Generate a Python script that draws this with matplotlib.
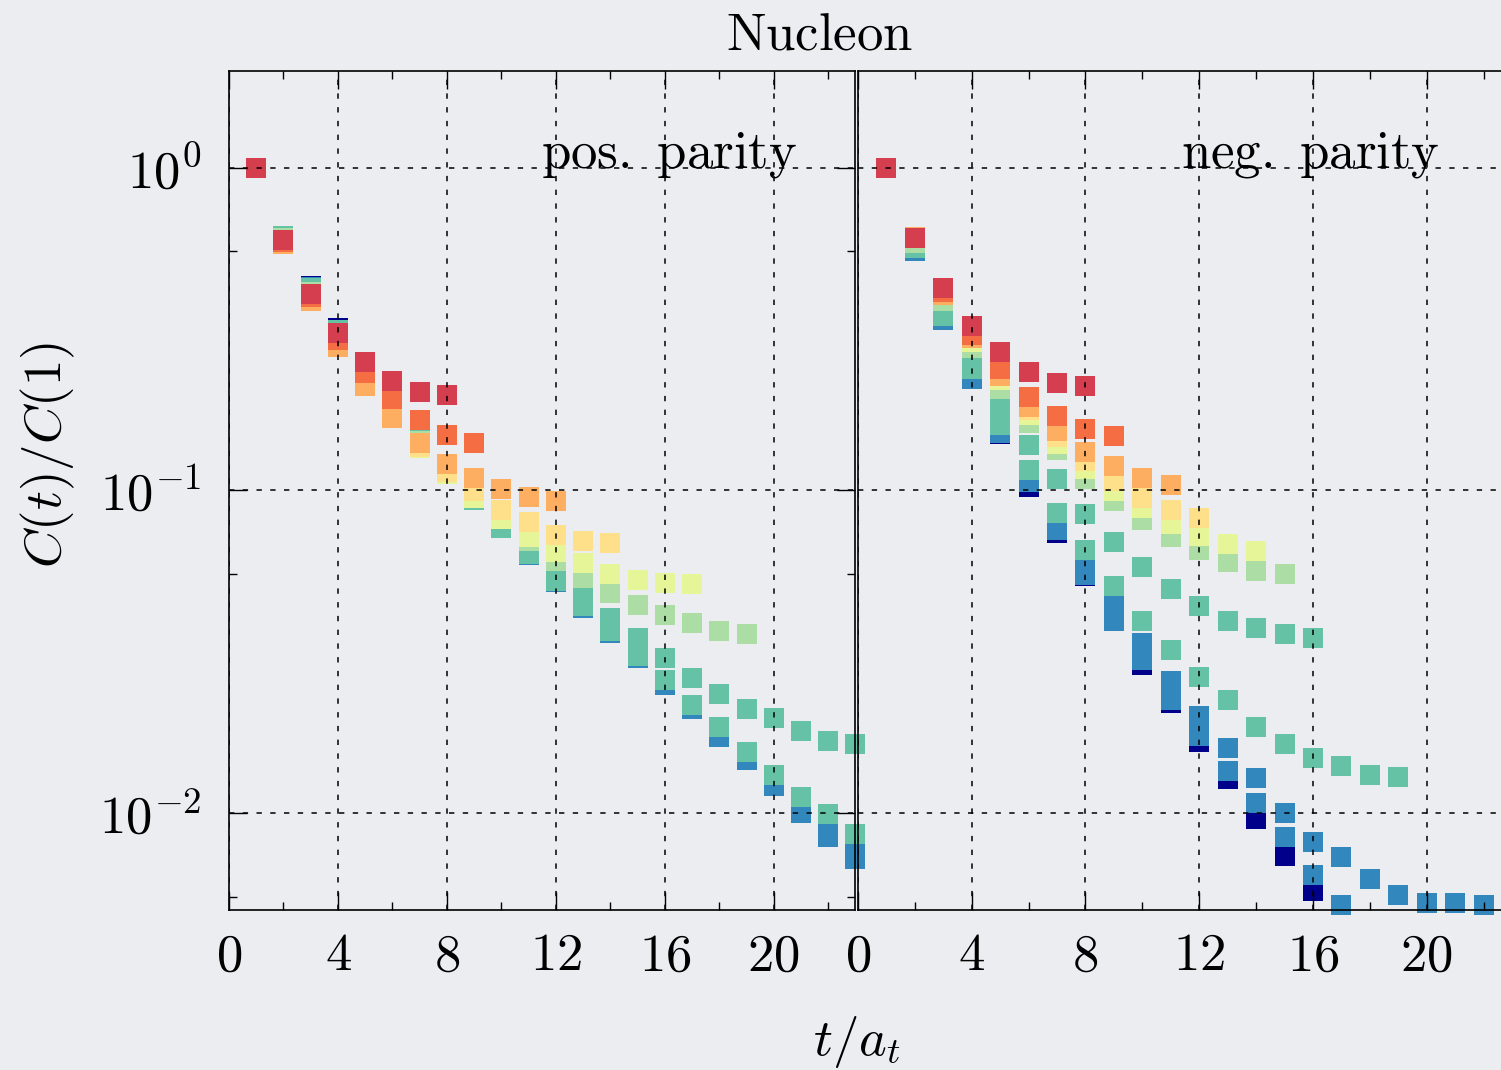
import numpy as np
import matplotlib
matplotlib.use("Agg")
import matplotlib.pyplot as plt
from matplotlib.ticker import FixedLocator, FuncFormatter, NullFormatter

plt.rcParams['mathtext.fontset'] = 'cm'

# colours (dark navy first, red last -> red ends up on top)
c_navy = '#00008b'
c_blue = '#3288bd'
c_teal = '#66c2a5'
c_lgreen = '#abdda4'
c_lyellow = '#e6f598'
c_yellow = '#fee08b'
c_lorange = '#fdae61'
c_orange = '#f46d43'
c_red = '#d53e4f'

# ---- positive parity, values for t = 1, 2, ...  (start given when not t=1)
pos_navy = [1.0, 0.615, 0.430, 0.319]
pos_blue = [1.0, 0.615, 0.427, 0.313, 0.24, 0.185, 0.153, 0.12, 0.0936, 0.0766,
            0.0632, 0.0521, 0.0432, 0.0361, 0.0302, 0.0249, 0.0210, 0.0172,
            0.0146, 0.0121, 0.0100, 0.0084, 0.0072]
pos_blue2 = [0.0088, 0.0076]                 # t = 22, 23
pos_teal_b = [1.0, 0.612, 0.424, 0.313, 0.24, 0.185, 0.153, 0.12, 0.0936, 0.0766,
              0.0636, 0.0524, 0.0438, 0.0366, 0.0306, 0.0258, 0.0216, 0.0184,
              0.0154, 0.0131, 0.0112, 0.0099, 0.0086]
pos_teal_a = [0.0526, 0.0466, 0.0402, 0.0349, 0.0302, 0.0262, 0.0233, 0.0210,
              0.0197, 0.0179, 0.0167, 0.0163]  # t = 12..23
pos_lgreen = [1.0, 0.607, 0.411, 0.30, 0.235, 0.19, 0.142, 0.115, 0.095, 0.0817,
              0.0698, 0.0605, 0.0536, 0.0481, 0.0442, 0.0411, 0.0388, 0.0366, 0.0359]
pos_lyellow = [1.0, 0.581, 0.386, 0.278, 0.210, 0.167, 0.135, 0.112, 0.0943, 0.0817,
               0.0718, 0.0645, 0.0596, 0.0551, 0.0528, 0.0517, 0.0513]
pos_yellow = [1.0, 0.581, 0.386, 0.278, 0.210, 0.167, 0.136, 0.114, 0.0992, 0.0866,
              0.080, 0.0729, 0.0698, 0.0688]
pos_lorange = [1.0, 0.581, 0.386, 0.278, 0.210, 0.168, 0.140, 0.121, 0.109, 0.101,
               0.0956, 0.0929]
pos_orange = [1.0, 0.588, 0.398, 0.292, 0.231, 0.192, 0.165, 0.148, 0.140]
pos_red = [1.0, 0.595, 0.406, 0.308, 0.250, 0.218, 0.201, 0.197]

# ---- negative parity
neg_navy = [1.0, 0.553, 0.3373, 0.2211, 0.1491, 0.1027, 0.0739, 0.0543, 0.0394,
            0.0287, 0.0219, 0.01656, 0.0127, 0.00954, 0.00737, 0.00574]
neg_blue_b = [1.0, 0.553, 0.3373, 0.2211, 0.1502, 0.1058, 0.0755, 0.0547, 0.0394,
              0.0298, 0.0224, 0.01728, 0.01345, 0.0107, 0.00839, 0.00643, 0.00519]
neg_blue_a = [1.0, 0.553, 0.3373, 0.2211, 0.1502, 0.1058, 0.0755, 0.059, 0.0442,
              0.0336, 0.0256, 0.01994, 0.01585, 0.0128, 0.00996, 0.00815, 0.00732,
              0.00625, 0.00557, 0.00527, 0.00527, 0.00519]
neg_teal_b = [1.0, 0.565, 0.347, 0.2374, 0.159, 0.1152, 0.0853, 0.0655, 0.0506,
              0.0394, 0.032, 0.0264, 0.0224, 0.01843, 0.01632, 0.01477, 0.01394,
              0.01307, 0.01289]
neg_teal_a = [1.0, 0.565, 0.347, 0.2434, 0.1835, 0.1378, 0.108, 0.0847, 0.0693,
              0.058, 0.0495, 0.0438, 0.0394, 0.0374, 0.0359, 0.0349]
neg_lgreen = [1.0, 0.585, 0.3864, 0.276, 0.2058, 0.1613, 0.133, 0.108, 0.0923,
              0.0811, 0.0718, 0.0655, 0.0601, 0.0563, 0.0551]
neg_lyellow = [1.0, 0.607, 0.4035, 0.288, 0.2195, 0.1709, 0.1388, 0.1161, 0.0992,
               0.0878, 0.0788, 0.0724, 0.0679, 0.065]
neg_yellow = [1.0, 0.607, 0.4035, 0.2965, 0.2259, 0.177, 0.1459, 0.1229, 0.1066,
              0.0943, 0.0866, 0.0823]
neg_lorange = [1.0, 0.611, 0.4035, 0.2965, 0.2259, 0.1809, 0.1524, 0.1311, 0.1186,
               0.1088, 0.1035]
neg_orange = [1.0, 0.607, 0.412, 0.303, 0.2374, 0.1943, 0.1697, 0.1546, 0.147]
neg_red = [1.0, 0.607, 0.424, 0.323, 0.268, 0.2325, 0.2148, 0.2103]

x_ticks = [0, 4, 8, 12, 16, 20]
x_minor = [2, 6, 10, 14, 18, 22]
y_ticks = [1e-2, 1e-1, 1.0]
y_minor = [0.0055, 0.055, 0.55]

bg = '#ebedf0'
fig = plt.figure(figsize=(15.01, 10.70), dpi=100, facecolor=bg)
axL = fig.add_axes([229/1501, 160/1070, 626.5/1501, 839.5/1070])
axR = fig.add_axes([858/1501, 160/1070, 654/1501, 839.5/1070])

def draw(ax, vals, color, start=1):
    t = np.arange(start, start + len(vals))
    ax.plot(t, vals, 's', ms=13.7, mew=0, color=color, ls='none', clip_on=False)

draw(axL, pos_navy, c_navy)
draw(axL, pos_blue, c_blue)
draw(axL, pos_blue2, c_blue, start=22)
draw(axL, pos_teal_b, c_teal)
draw(axL, pos_teal_a, c_teal, start=12)
draw(axL, pos_lgreen, c_lgreen)
draw(axL, pos_lyellow, c_lyellow)
draw(axL, pos_yellow, c_yellow)
draw(axL, pos_lorange, c_lorange)
draw(axL, pos_orange, c_orange)
draw(axL, pos_red, c_red)

draw(axR, neg_navy, c_navy)
draw(axR, neg_blue_b, c_blue)
draw(axR, neg_blue_a, c_blue)
draw(axR, neg_teal_b, c_teal)
draw(axR, neg_teal_a, c_teal)
draw(axR, neg_lgreen, c_lgreen)
draw(axR, neg_lyellow, c_lyellow)
draw(axR, neg_yellow, c_yellow)
draw(axR, neg_lorange, c_lorange)
draw(axR, neg_orange, c_orange)
draw(axR, neg_red, c_red)

for ax in (axL, axR):
    ax.set_facecolor('none')
    ax.set_yscale('log')
    ax.set_xlim(0, 23)
    ax.set_ylim(0.005, 2.0)
    ax.xaxis.set_major_locator(FixedLocator(x_ticks))
    ax.xaxis.set_minor_locator(FixedLocator(x_minor))
    ax.xaxis.set_major_formatter(FuncFormatter(lambda v, p: r'$\mathrm{%d}$' % v))
    ax.yaxis.set_major_locator(FixedLocator(y_ticks))
    ax.yaxis.set_minor_locator(FixedLocator(y_minor))
    ax.yaxis.set_major_formatter(FuncFormatter(
        lambda v, p: r'$\mathrm{10^{%d}}$' % int(round(np.log10(v)))))
    ax.yaxis.set_minor_formatter(NullFormatter())
    ax.set_axisbelow(False)
    ax.grid(True, which='major', color='k', lw=1.1, ls=(0, (3.5, 5.5)))
    for s in ax.spines.values():
        s.set_linewidth(1.2)
    ax.tick_params(which='both', direction='in', width=1.0, top=True)
    ax.tick_params(which='major', length=13)
    ax.tick_params(which='minor', length=5.5)
    ax.tick_params(axis='x', which='major', labelsize=38, pad=14)
    ax.tick_params(axis='y', which='major', labelsize=38, pad=20)

axL.tick_params(which='both', right=True)
axR.tick_params(axis='y', which='both', left=False, right=False, labelleft=False)

axL.text(20.85, 1.0, r'$\mathrm{pos.\ parity}$', ha='right', va='baseline', fontsize=38)
axR.text(20.46, 1.0, r'$\mathrm{neg.\ parity}$', ha='right', va='baseline', fontsize=38)

fig.text(820/1501, 1 - 35/1070, r'$\mathrm{Nucleon}$', ha='center', va='center', fontsize=38)
fig.text(48/1501, 1 - 455/1070, r'$C(t)/C(\mathrm{1})$', rotation=90,
         ha='center', va='center', fontsize=38)
fig.text(857/1501, 1 - 1042/1070, r'$t/a_t$', ha='center', va='center', fontsize=38)

fig.savefig('out.png', dpi=100, facecolor=bg)
